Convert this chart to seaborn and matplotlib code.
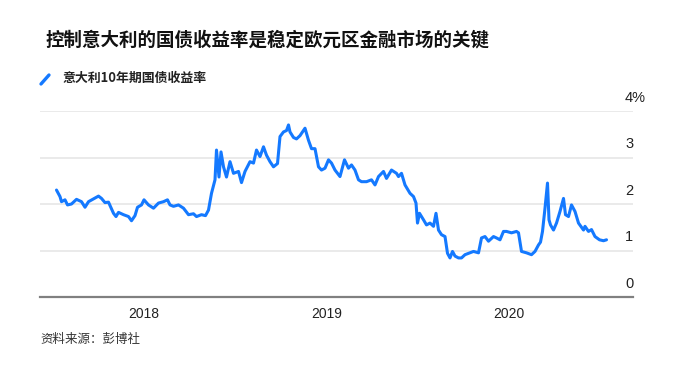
import matplotlib
matplotlib.use("Agg")
import matplotlib.pyplot as plt
import matplotlib.transforms as mtransforms
from matplotlib.lines import Line2D
import pandas as pd
import seaborn as sns

title = "控制意大利的国债收益率是稳定欧元区金融市场的关键"
series_name = "意大利10年期国债收益率"
source = "资料来源：彭博社"

# values (Italian 10y yield, %)
dates = [
    "2017-07-10", "2017-07-17", "2017-07-20", "2017-07-27", "2017-08-01", "2017-08-09",
    "2017-08-19", "2017-08-29", "2017-09-05", "2017-09-12", "2017-10-02", "2017-10-08",
    "2017-10-15", "2017-10-22", "2017-11-01", "2017-11-06", "2017-11-11", "2017-11-21",
    "2017-12-01", "2017-12-07", "2017-12-14", "2017-12-19", "2017-12-27", "2018-01-01",
    "2018-01-10", "2018-01-20", "2018-01-30", "2018-02-09", "2018-02-17", "2018-02-22",
    "2018-03-01", "2018-03-11", "2018-03-21", "2018-03-31", "2018-04-10", "2018-04-16",
    "2018-04-26", "2018-05-04", "2018-05-10", "2018-05-16", "2018-05-23", "2018-05-26",
    "2018-05-31", "2018-06-04", "2018-06-09", "2018-06-15", "2018-06-22", "2018-06-29",
    "2018-07-09", "2018-07-15", "2018-07-22", "2018-08-01", "2018-08-08", "2018-08-14",
    "2018-08-21", "2018-08-28", "2018-09-03", "2018-09-10", "2018-09-17", "2018-09-25",
    "2018-09-30", "2018-10-07", "2018-10-13", "2018-10-17", "2018-10-20", "2018-10-27",
    "2018-11-02", "2018-11-09", "2018-11-19", "2018-11-26", "2018-12-02", "2018-12-09",
    "2018-12-16", "2018-12-22", "2018-12-29", "2019-01-05", "2019-01-11", "2019-01-18",
    "2019-01-28", "2019-02-06", "2019-02-14", "2019-02-20", "2019-02-27", "2019-03-06",
    "2019-03-12", "2019-03-22", "2019-04-01", "2019-04-08", "2019-04-15", "2019-04-25",
    "2019-05-01", "2019-05-11", "2019-05-21", "2019-05-25", "2019-05-31", "2019-06-07",
    "2019-06-17", "2019-06-24", "2019-06-29", "2019-07-02", "2019-07-06", "2019-07-14",
    "2019-07-20", "2019-07-27", "2019-08-03", "2019-08-08", "2019-08-13", "2019-08-19",
    "2019-08-26", "2019-08-31", "2019-09-05", "2019-09-10", "2019-09-15", "2019-09-22",
    "2019-09-28", "2019-10-05", "2019-10-15", "2019-10-22", "2019-11-01", "2019-11-07",
    "2019-11-14", "2019-11-21", "2019-12-01", "2019-12-07", "2019-12-14", "2019-12-21",
    "2019-12-27", "2020-01-06", "2020-01-16", "2020-01-20", "2020-01-26", "2020-02-05",
    "2020-02-15", "2020-02-22", "2020-02-29", "2020-03-04", "2020-03-08", "2020-03-13",
    "2020-03-18", "2020-03-21", "2020-03-24", "2020-03-30", "2020-04-05", "2020-04-12",
    "2020-04-19", "2020-04-23", "2020-04-29", "2020-05-05", "2020-05-12", "2020-05-19",
    "2020-05-29", "2020-06-01", "2020-06-08", "2020-06-14", "2020-06-21", "2020-06-30",
    "2020-07-08", "2020-07-14",
]
yields = [
    2.30, 2.16, 2.05, 2.09, 1.98, 2.00,
    2.10, 2.05, 1.93, 2.05, 2.17, 2.12,
    2.03, 2.04, 1.80, 1.73, 1.82, 1.77,
    1.73, 1.64, 1.75, 1.93, 1.98, 2.09,
    1.98, 1.91, 2.02, 2.05, 2.09, 1.98,
    1.95, 1.98, 1.91, 1.77, 1.79, 1.73,
    1.77, 1.75, 1.87, 2.23, 2.52, 3.16,
    2.58, 3.12, 2.80, 2.58, 2.91, 2.66,
    2.70, 2.46, 2.70, 2.91, 2.88, 3.16,
    3.02, 3.23, 3.05, 2.91, 2.80, 2.87,
    3.45, 3.55, 3.58, 3.70, 3.55, 3.43,
    3.40, 3.47, 3.63, 3.37, 3.19, 3.19,
    2.80, 2.73, 2.77, 2.95, 2.88, 2.73,
    2.59, 2.95, 2.77, 2.84, 2.73, 2.52,
    2.48, 2.48, 2.52, 2.41, 2.59, 2.70,
    2.55, 2.73, 2.66, 2.59, 2.66, 2.41,
    2.23, 2.16, 2.02, 1.59, 1.80, 1.66,
    1.55, 1.59, 1.52, 1.80, 1.44, 1.34,
    1.30, 0.94, 0.84, 0.98, 0.88, 0.84,
    0.84, 0.91, 0.95, 0.98, 0.95, 1.27,
    1.30, 1.20, 1.30, 1.27, 1.23, 1.41,
    1.41, 1.38, 1.41, 1.38, 0.98, 0.95,
    0.91, 0.98, 1.12, 1.18, 1.41, 1.91,
    2.45, 1.66, 1.55, 1.44, 1.59, 1.84,
    2.12, 1.77, 1.73, 1.98, 1.84, 1.59,
    1.44, 1.52, 1.41, 1.45, 1.30, 1.23,
    1.21, 1.23,
]

y_ticks = [0, 1, 2, 3, 4]
y_labels = ["0", "1", "2", "3", "4%"]
x_ticks = ["2018-01-01", "2019-01-01", "2020-01-01"]
x_labels = ["2018", "2019", "2020"]

blue = "#1479ff"

sns.set_style("white")
plt.rcParams["font.family"] = ["Liberation Sans", "Noto Sans CJK SC", "DejaVu Sans"]

W, H = 692, 378
fig = plt.figure(figsize=(W / 100, H / 100), dpi=100)
ax = fig.add_axes([40 / W, 1 - 297 / H, (633 - 40) / W, (297 - 111) / H])

df = pd.DataFrame({"date": pd.to_datetime(dates), "yield": yields})
sns.lineplot(data=df, x="date", y="yield", ax=ax, color=blue, linewidth=2.2)

ax.set_xlim(pd.Timestamp("2017-06-07"), pd.Timestamp("2020-09-05"))
ax.set_ylim(0, 4)
ax.set_xlabel("")
ax.set_ylabel("")

ax.set_yticks(y_ticks)
ax.set_yticklabels([])
ax.tick_params(axis="y", length=0)
ax.grid(axis="y", color="#e6e6e6", linewidth=1.2)
ax.set_axisbelow(True)

ax.set_xticks(pd.to_datetime(x_ticks))
ax.set_xticklabels(x_labels, fontsize=10, color="#222222")
ax.tick_params(axis="x", direction="out", length=4, width=1, color="#555555", pad=3)

for s in ["top", "left", "right"]:
    ax.spines[s].set_visible(False)
ax.spines["bottom"].set_color("#808080")
ax.spines["bottom"].set_linewidth(1.6)

# value labels sit above the grid lines, on the right
trans = mtransforms.blended_transform_factory(ax.transAxes, ax.transData)
for v, lab in zip(y_ticks, y_labels):
    ax.text(0.9865, v + 0.29, lab, transform=trans, ha="left", va="center",
            fontsize=10.5, color="#222222")

fig.text(45 / W, 1 - 40 / H, title, fontsize=13.3, fontweight="bold",
         family=["Noto Sans CJK SC", "DejaVu Sans"], va="center", color="#111111")

fig.add_artist(Line2D([41 / W, 49 / W], [1 - 84 / H, 1 - 75 / H], color=blue,
                      linewidth=2.4, solid_capstyle="round"))
fig.text(62 / W, 1 - 78 / H, series_name, fontsize=9.3, fontweight="bold",
         family=["Noto Sans CJK SC", "DejaVu Sans"], va="center", color="#222222")

fig.text(40 / W, 1 - 340 / H, source, fontsize=9, color="#333333",
         family=["Noto Sans CJK SC", "DejaVu Sans"], va="center")

fig.savefig("out.png", dpi=100)
